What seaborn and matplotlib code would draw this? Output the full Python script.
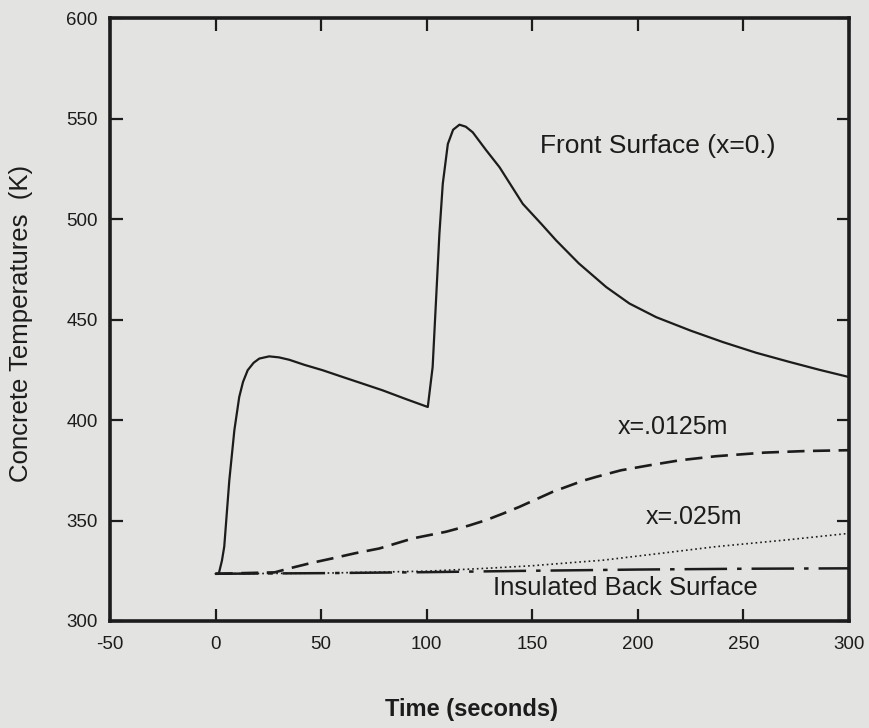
import matplotlib
matplotlib.use("Agg")
import matplotlib.pyplot as plt
import seaborn as sns

# Front surface (x = 0) temperature history
front_t = [0, 1.5, 3, 4.1, 6.5, 8.9, 11.2, 13, 15.2, 18, 20.7, 25.4, 30, 34.9, 42,
           50.7, 60, 70, 79.1, 90, 100.5, 102.8, 104.4, 106, 107.6, 110, 112.5,
           115.5, 118.5, 121.8, 128, 134.5, 145.5, 154.2, 161.3, 172, 185, 196,
           208.7, 225, 240.3, 256, 271.9, 286, 300]
front_T = [323.5, 323.5, 330, 337, 370, 395, 411.5, 419, 424.8, 428.5, 430.6, 431.7,
           431.2, 430, 427.5, 424.8, 421.5, 418, 414.8, 410.5, 406.5, 426.4, 459.5,
           492.7, 517.6, 537.4, 544.5, 547, 546, 543.2, 534.5, 525.8, 507.6, 497.7,
           489.4, 478, 466.2, 458, 451.2, 444.5, 438.8, 433.5, 428.9, 425, 421.4]

# Depth x = .0125 m
mid_t = [0, 28, 35, 45, 55.5, 66, 77.6, 93.4, 109.1, 120, 128.1, 136, 143.9, 159.7,
         174, 180.2, 192, 205.5, 220, 237, 260, 280, 300]
mid_T = [323.5, 324.2, 326.2, 328.8, 331.2, 333.7, 336.1, 341.1, 344.4, 347.5, 350.2,
         353.4, 356.8, 364.3, 369.8, 371.7, 375, 377.5, 380, 382, 383.8, 384.6, 385]

# Depth x = .025 m
deep_t = [0, 50, 100, 128, 150, 174, 183, 205.5, 237, 270, 300]
deep_T = [323.5, 323.8, 324.8, 326.2, 327.5, 329.5, 330.2, 333, 337, 340.3, 343.6]

# Insulated back surface
back_t = [0, 50, 100, 150, 200, 250, 300]
back_T = [323.5, 323.8, 324.3, 325, 325.6, 326, 326.2]

x_ticks = [-50, 0, 50, 100, 150, 200, 250, 300]
y_ticks = [300, 350, 400, 450, 500, 550, 600]

paper = "#e3e3e1"
ink = "#1c1c1c"

sns.set_theme(style="white")
plt.rcParams["font.family"] = ["Liberation Sans", "DejaVu Sans"]

fig = plt.figure(figsize=(8.69, 7.28), dpi=100, facecolor=paper)
ax = fig.add_axes([0.1266, 0.147, 0.8504, 0.828])
ax.set_facecolor(paper)

sns.lineplot(x=front_t, y=front_T, ax=ax, color=ink, lw=1.6, sort=False, estimator=None)
sns.lineplot(x=mid_t, y=mid_T, ax=ax, color=ink, lw=1.9, sort=False, estimator=None,
             linestyle=(0, (6.5, 3.2)))
sns.lineplot(x=deep_t, y=deep_T, ax=ax, color=ink, lw=1.2, sort=False, estimator=None,
             linestyle=(0, (1.0, 1.8)))
sns.lineplot(x=back_t, y=back_T, ax=ax, color=ink, lw=1.8, sort=False, estimator=None,
             linestyle=(0, (17, 4, 1.8, 4)))

ax.set_xlim(-50, 300)
ax.set_ylim(300, 600)
ax.set_xticks(x_ticks)
ax.set_yticks(y_ticks)
ax.set_xticklabels([str(v) for v in x_ticks])
ax.set_yticklabels([str(v) for v in y_ticks])

for side in ["left", "right", "top", "bottom"]:
    ax.spines[side].set_visible(True)
    ax.spines[side].set_color(ink)
    ax.spines[side].set_linewidth(2.6)

ax.tick_params(axis="both", which="major", direction="in", length=9, width=1.6,
               color=ink, labelcolor=ink, labelsize=13.5,
               top=True, right=True, bottom=True, left=True)
ax.tick_params(axis="x", pad=11)
ax.tick_params(axis="y", pad=9)

ax.set_xlabel("Time (seconds)", fontsize=17, fontweight="bold", color=ink)
ax.set_ylabel("Concrete Temperatures  (K)", fontsize=18.5, color=ink)
ax.xaxis.set_label_coords(0.489, -0.128)
ax.yaxis.set_label_coords(-0.104, 0.494)

label_style = dict(color=ink, ha="left", va="center")
ax.text(153.6, 536.6, "Front Surface (x=0.)", fontsize=19, **label_style)
ax.text(190.5, 396.4, "x=.0125m", fontsize=18, **label_style)
ax.text(203.8, 351.8, "x=.025m", fontsize=18, **label_style)
ax.text(131.3, 316.4, "Insulated Back Surface", fontsize=18.5, **label_style)

fig.savefig("out.png", dpi=100, facecolor=paper)
